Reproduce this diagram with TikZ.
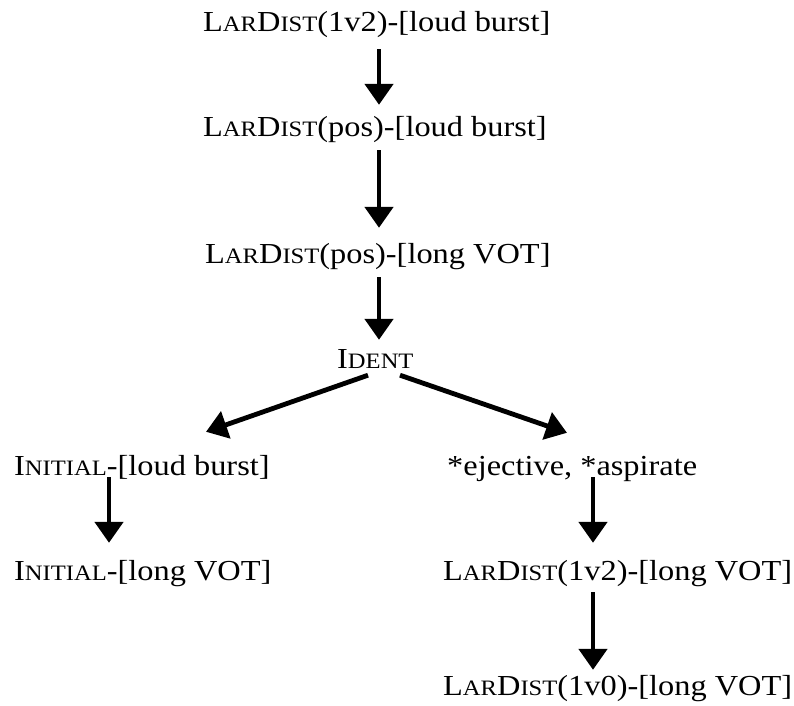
\documentclass[tikz,border=0pt]{standalone}
\usepackage{fontspec}
\setmainfont{Liberation Serif}[FakeStretch=1.117]
\usetikzlibrary{arrows.meta}
\newcommand\smc[1]{{\fontsize{22}{22}\selectfont #1}}
\tikzset{
  lbl/.style={inner sep=0pt, text height=22pt, text depth=6pt,
    font=\fontsize{29}{29}\selectfont, anchor=base west},
  arr/.style={line width=4.8pt, -{Triangle[width=28pt,length=21pt]}}
}
\begin{document}
\begin{tikzpicture}[x=1pt,y=1pt]
\useasboundingbox (0,0) rectangle (794,-705);
\node[lbl] (t1) at (203,-31) {L\smc{AR}D\smc{IST}(1v2)-[loud burst]};
\node[lbl] (t2) at (203,-136) {L\smc{AR}D\smc{IST}(pos)-[loud burst]};
\node[lbl] (t3) at (205,-263) {L\smc{AR}D\smc{IST}(pos)-[long VOT]};
\node[lbl] (id) at (337,-368) {I\smc{DENT}};
\node[lbl] (l1) at (14,-475) {I\smc{NITIAL}-[loud burst]};
\node[lbl] (r1) at (447,-475) {*ejective, *aspirate};
\node[lbl] (l2) at (14,-580) {I\smc{NITIAL}-[long VOT]};
\node[lbl] (r2) at (443,-580) {L\smc{AR}D\smc{IST}(1v2)-[long VOT]};
\node[lbl] (r3) at (443,-695) {L\smc{AR}D\smc{IST}(1v0)-[long VOT]};
\draw[arr] ([xshift=176pt,yshift=-12pt]t1.south west) -- ([xshift=176pt,yshift=9pt]t2.north west);
\draw[arr] ([xshift=176pt,yshift=-8pt]t2.south west) -- ([xshift=174pt,yshift=13pt]t3.north west);
\draw[arr] ([xshift=174pt,yshift=-8pt]t3.south west) -- ([xshift=42pt,yshift=6pt]id.north west);
\draw[arr] ([xshift=31pt,yshift=-1pt]id.south west) -- ([xshift=192pt,yshift=21pt]l1.north west);
\draw[arr] ([xshift=63pt,yshift=-1pt]id.south west) -- ([xshift=120pt,yshift=20pt]r1.north west);
\draw[arr] ([xshift=95pt,yshift=4pt]l1.south west) -- ([xshift=95pt,yshift=15pt]l2.north west);
\draw[arr] ([xshift=146pt,yshift=4pt]r1.south west) -- ([xshift=150pt,yshift=15pt]r2.north west);
\draw[arr] ([xshift=150pt,yshift=-6pt]r2.south west) -- ([xshift=150pt,yshift=3pt]r3.north west);
\end{tikzpicture}
\end{document}
